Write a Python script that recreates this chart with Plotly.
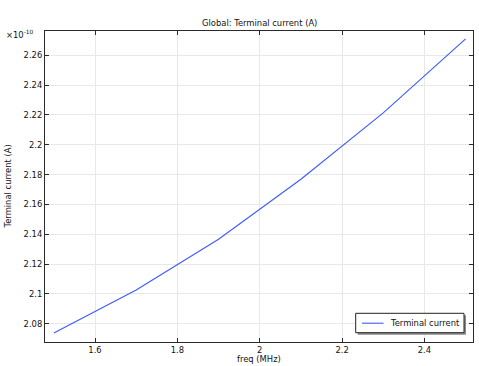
import plotly.graph_objects as go

freq_mhz = [1.5, 1.7, 1.9, 2.1, 2.3, 2.5]
current_e10 = [2.0738, 2.1027, 2.1367, 2.1769, 2.2213, 2.2709]
x_ticks = [1.6, 1.8, 2.0, 2.2, 2.4]
x_ticklabels = ["1.6", "1.8", "2", "2.2", "2.4"]
y_ticks = [2.08, 2.10, 2.12, 2.14, 2.16, 2.18, 2.20, 2.22, 2.24, 2.26]
y_ticklabels = ["2.08", "2.1", "2.12", "2.14", "2.16", "2.18", "2.2", "2.22", "2.24", "2.26"]
series_name = "Terminal current"

FONT = "DejaVu Sans"
FS = 8.4
TXT = "#111111"
LINE_COLOR = "rgb(60,90,255)"

W, H = 479, 366
L, R, T, B = 45, 6, 31, 24
PW, PH = W - L - R, H - T - B


def px(xp):
    return (xp - L) / PW


def py(yp):
    return (H - B - yp) / PH


fig = go.Figure()
fig.add_trace(go.Scatter(
    x=freq_mhz, y=current_e10, mode="lines", name=series_name,
    line=dict(color=LINE_COLOR, width=1.1), showlegend=False,
))

axis_common = dict(
    showline=True, linecolor="#2a2a2a", linewidth=1.2, mirror="allticks",
    ticks="inside", ticklen=4, tickcolor="#2a2a2a", tickwidth=1,
    showgrid=True, gridcolor="#e8e8e8", gridwidth=1, zeroline=False,
    tickfont=dict(family=FONT, size=FS, color=TXT),
)

# legend box (drawn manually to match the reference's compact legend)
lx0, lx1, ly0, ly1 = 355.7, 464.0, 313.3, 332.7
shapes = [
    dict(type="rect", xref="paper", yref="paper",
         x0=px(lx0 + 2), x1=px(lx1 + 2), y0=py(ly1 + 2), y1=py(ly0 + 2),
         fillcolor="#8a8a8a", line=dict(width=0), layer="above"),
    dict(type="rect", xref="paper", yref="paper",
         x0=px(lx0), x1=px(lx1), y0=py(ly1), y1=py(ly0),
         fillcolor="white", line=dict(color="#222222", width=1), layer="above"),
    dict(type="line", xref="paper", yref="paper",
         x0=px(362), x1=px(383.5), y0=py(323.2), y1=py(323.2),
         line=dict(color=LINE_COLOR, width=1.1), layer="above"),
]

fig.update_layout(
    width=W, height=H,
    margin=dict(l=L, r=R, t=T, b=B),
    paper_bgcolor="white", plot_bgcolor="white",
    font=dict(family=FONT, size=FS, color=TXT),
    showlegend=False,
    xaxis=dict(range=[1.4785, 2.518], tickvals=x_ticks, ticktext=x_ticklabels, **axis_common),
    yaxis=dict(range=[2.0678, 2.2762], tickvals=y_ticks, ticktext=y_ticklabels, **axis_common),
    shapes=shapes,
    annotations=[
        dict(text="Global: Terminal current (A)", xref="paper", yref="paper",
             x=0.5, y=py(23), xanchor="center", yanchor="middle", showarrow=False,
             font=dict(family=FONT, size=FS, color=TXT)),
        dict(text="freq (MHz)", xref="paper", yref="paper",
             x=0.5, y=py(359), xanchor="center", yanchor="middle", showarrow=False,
             font=dict(family=FONT, size=FS, color=TXT)),
        dict(text="Terminal current (A)", xref="paper", yref="paper",
             x=px(7), y=0.5, xanchor="center", yanchor="middle", textangle=-90,
             showarrow=False, font=dict(family=FONT, size=FS, color=TXT)),
        dict(text="×10<sup>-10</sup>", xref="paper", yref="paper",
             x=px(36), y=py(34.3), xanchor="right", yanchor="middle", showarrow=False,
             font=dict(family=FONT, size=FS, color=TXT)),
        dict(text=series_name, xref="paper", yref="paper",
             x=px(387.5), y=py(323.2), xanchor="left", yanchor="middle", showarrow=False,
             font=dict(family=FONT, size=FS, color=TXT)),
    ],
)

fig.write_html("out.html")
